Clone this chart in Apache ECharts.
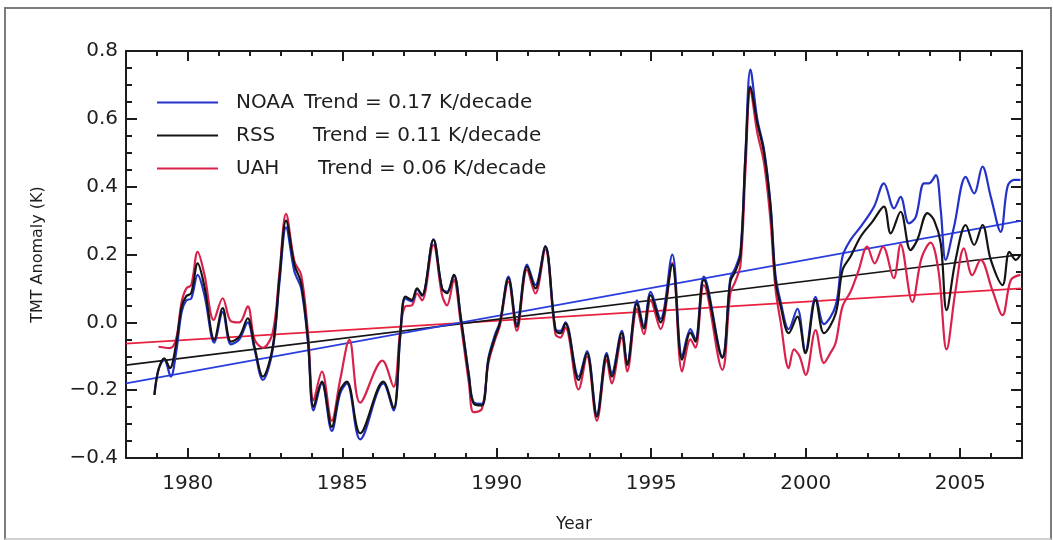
<!DOCTYPE html>
<html>
<head>
<meta charset="utf-8">
<script src="https://cdn.jsdelivr.net/npm/echarts@6/dist/echarts.min.js"></script>
<style>
  html, body { margin: 0; padding: 0; background: #fff; }
  #wrap { position: relative; width: 1053px; height: 540px; }
  #chart { position: absolute; left: 0; top: 0; width: 1053px; height: 540px; }
  #frame { position: absolute; left: 4px; top: 7px; width: 1044px; height: 529px;
           border: 2px solid #7c7c7c; border-bottom-color: #cfcfcf; pointer-events: none; }
</style>
</head>
<body>
<div id="wrap"><div id="chart"></div><div id="frame"></div></div>
<script>
// ---- data ([year, anomaly K]) ----
const seriesNames = ['NOAA', 'RSS', 'UAH'];
const trendLabels = ['0.17', '0.11', '0.06'];

const noaa = [[1978.92,-0.214],[1979.05,-0.14],[1979.24,-0.11],[1979.45,-0.16],[1979.62,-0.09],[1979.8,0.03],[1979.95,0.065],[1980.11,0.07],[1980.32,0.14],[1980.54,0.08],[1980.86,-0.06],[1981.13,0.03],[1981.4,-0.065],[1981.67,-0.05],[1981.94,0.0],[1982.16,-0.08],[1982.43,-0.17],[1982.75,-0.08],[1982.97,0.12],[1983.18,0.28],[1983.45,0.15],[1983.67,0.1],[1983.89,-0.06],[1984.07,-0.26],[1984.34,-0.18],[1984.66,-0.32],[1984.93,-0.21],[1985.15,-0.18],[1985.58,-0.345],[1986.33,-0.18],[1986.66,-0.26],[1986.88,-0.04],[1987.04,0.07],[1987.25,0.062],[1987.42,0.098],[1987.58,0.078],[1987.95,0.245],[1988.23,0.1],[1988.39,0.09],[1988.61,0.14],[1988.83,0.02],[1989.1,-0.155],[1989.25,-0.235],[1989.52,-0.24],[1989.73,-0.105],[1989.95,-0.035],[1990.1,0.0],[1990.38,0.135],[1990.65,-0.005],[1990.98,0.17],[1991.25,0.11],[1991.57,0.225],[1991.9,-0.02],[1992.06,-0.025],[1992.22,0.0],[1992.65,-0.16],[1992.92,-0.085],[1993.24,-0.27],[1993.56,-0.09],[1993.72,-0.15],[1994.05,-0.025],[1994.22,-0.12],[1994.54,0.065],[1994.76,-0.01],[1994.98,0.09],[1995.3,0.01],[1995.68,0.2],[1996.0,-0.1],[1996.27,-0.02],[1996.43,-0.05],[1996.7,0.135],[1997.3,-0.1],[1997.56,0.13],[1997.72,0.16],[1997.89,0.21],[1998.05,0.5],[1998.21,0.745],[1998.43,0.6],[1998.65,0.51],[1998.86,0.35],[1999.02,0.14],[1999.19,0.06],[1999.45,-0.02],[1999.73,0.04],[1999.99,-0.085],[2000.32,0.075],[2000.59,-0.005],[2000.97,0.05],[2001.19,0.194],[2001.45,0.243],[2001.78,0.282],[2002.21,0.341],[2002.53,0.41],[2002.86,0.336],[2003.07,0.37],[2003.34,0.292],[2003.56,0.31],[2003.83,0.41],[2003.99,0.41],[2004.21,0.434],[2004.37,0.331],[2004.53,0.184],[2004.8,0.282],[2005.18,0.429],[2005.45,0.38],[2005.72,0.459],[2005.99,0.37],[2006.31,0.267],[2006.53,0.4],[2006.74,0.42],[2006.95,0.42]];

const rss = [[1978.92,-0.214],[1979.05,-0.14],[1979.24,-0.106],[1979.42,-0.135],[1979.62,-0.065],[1979.8,0.045],[1979.95,0.077],[1980.11,0.086],[1980.32,0.174],[1980.54,0.105],[1980.86,-0.052],[1981.13,0.042],[1981.4,-0.057],[1981.67,-0.042],[1981.94,0.012],[1982.16,-0.072],[1982.43,-0.16],[1982.75,-0.072],[1982.97,0.135],[1983.18,0.3],[1983.45,0.17],[1983.67,0.115],[1983.89,-0.052],[1984.07,-0.249],[1984.34,-0.175],[1984.66,-0.308],[1984.93,-0.2],[1985.15,-0.175],[1985.58,-0.327],[1986.33,-0.175],[1986.66,-0.253],[1986.88,-0.032],[1987.04,0.076],[1987.25,0.066],[1987.42,0.1],[1987.58,0.08],[1987.95,0.243],[1988.23,0.1],[1988.39,0.086],[1988.61,0.14],[1988.83,0.017],[1989.1,-0.16],[1989.25,-0.239],[1989.52,-0.245],[1989.73,-0.111],[1989.95,-0.042],[1990.1,-0.003],[1990.38,0.13],[1990.65,-0.013],[1990.98,0.164],[1991.25,0.1],[1991.57,0.223],[1991.9,-0.023],[1992.06,-0.032],[1992.22,-0.003],[1992.65,-0.17],[1992.92,-0.091],[1993.24,-0.278],[1993.56,-0.096],[1993.72,-0.16],[1994.05,-0.032],[1994.22,-0.126],[1994.54,0.056],[1994.76,-0.018],[1994.98,0.08],[1995.3,0.0],[1995.68,0.17],[1996.0,-0.11],[1996.27,-0.03],[1996.43,-0.057],[1996.7,0.125],[1997.3,-0.105],[1997.56,0.12],[1997.72,0.15],[1997.89,0.2],[1998.05,0.49],[1998.21,0.695],[1998.43,0.59],[1998.65,0.5],[1998.86,0.34],[1999.02,0.125],[1999.19,0.047],[1999.45,-0.032],[1999.73,0.017],[1999.99,-0.091],[2000.32,0.066],[2000.59,-0.032],[2000.97,0.026],[2001.19,0.154],[2001.45,0.194],[2001.78,0.253],[2002.16,0.297],[2002.53,0.341],[2002.75,0.262],[2003.07,0.326],[2003.39,0.213],[2003.61,0.243],[2003.94,0.322],[2004.15,0.302],[2004.37,0.233],[2004.56,0.036],[2004.85,0.184],[2005.18,0.287],[2005.45,0.228],[2005.72,0.287],[2005.99,0.184],[2006.37,0.11],[2006.59,0.208],[2006.8,0.184],[2006.95,0.2]];

const uah = [[1979.05,-0.072],[1979.42,-0.076],[1979.62,-0.05],[1979.8,0.06],[1979.95,0.1],[1980.11,0.11],[1980.32,0.208],[1980.54,0.14],[1980.84,0.007],[1981.13,0.071],[1981.4,0.003],[1981.67,0.0],[1981.94,0.047],[1982.16,-0.05],[1982.43,-0.075],[1982.75,-0.03],[1982.97,0.15],[1983.18,0.32],[1983.45,0.18],[1983.67,0.14],[1983.89,-0.03],[1984.07,-0.23],[1984.34,-0.145],[1984.66,-0.29],[1984.93,-0.17],[1985.23,-0.052],[1985.58,-0.237],[1986.3,-0.113],[1986.66,-0.19],[1986.88,-0.02],[1987.04,0.047],[1987.25,0.05],[1987.42,0.085],[1987.58,0.065],[1987.95,0.228],[1988.23,0.08],[1988.39,0.05],[1988.61,0.125],[1988.83,0.0],[1989.1,-0.18],[1989.25,-0.265],[1989.52,-0.255],[1989.73,-0.12],[1989.95,-0.05],[1990.1,-0.01],[1990.38,0.12],[1990.65,-0.025],[1990.98,0.155],[1991.25,0.085],[1991.57,0.215],[1991.9,-0.035],[1992.06,-0.045],[1992.22,-0.015],[1992.65,-0.198],[1992.92,-0.1],[1993.24,-0.29],[1993.56,-0.11],[1993.72,-0.18],[1994.05,-0.045],[1994.22,-0.145],[1994.54,0.04],[1994.76,-0.035],[1994.98,0.065],[1995.3,-0.02],[1995.68,0.175],[1996.0,-0.145],[1996.27,-0.05],[1996.43,-0.075],[1996.7,0.11],[1997.3,-0.14],[1997.56,0.086],[1997.72,0.12],[1997.89,0.17],[1998.05,0.45],[1998.21,0.685],[1998.43,0.56],[1998.65,0.47],[1998.86,0.3],[1999.02,0.1],[1999.19,0.0],[1999.45,-0.135],[1999.62,-0.08],[1999.8,-0.1],[2000.0,-0.155],[2000.32,-0.023],[2000.59,-0.12],[2000.8,-0.09],[2000.97,-0.06],[2001.19,0.047],[2001.45,0.09],[2001.7,0.15],[2001.99,0.223],[2002.23,0.174],[2002.5,0.223],[2002.85,0.13],[2003.07,0.23],[2003.45,0.06],[2003.75,0.19],[2004.04,0.235],[2004.3,0.15],[2004.56,-0.08],[2004.85,0.095],[2005.12,0.218],[2005.39,0.139],[2005.66,0.184],[2006.04,0.095],[2006.37,0.021],[2006.64,0.125],[2006.95,0.14]];

// linear trend lines: endpoints read at the axis edges
const trendYears = [1978, 2007];
const noaaTrend = [-0.18, 0.30];
const rssTrend = [-0.126, 0.20];
const uahTrend = [-0.063, 0.10];

// axis ticks
const majorYears = [1980, 1985, 1990, 1995, 2000, 2005];
const allYears = [];
for (let y = 1978; y <= 2007; y++) allYears.push(y);

// ---- styles ----
const colors = { NOAA: '#2432c8', RSS: '#141414', UAH: '#d8224c' };
const trendColors = { NOAA: '#2a3ee0', RSS: '#151515', UAH: '#e8223e' };
const axisColor = '#1c1c1c';
const textColor = '#1e1e1e';
const font = 'DejaVu Sans';

function trendData(v) { return trendYears.map((y, i) => [y, v[i]]); }

const xCommon = {
  type: 'value', min: 1978, max: 2007, gridIndex: 0,
  splitLine: { show: false }
};

const option = {
  animation: false,
  backgroundColor: '#fff',
  grid: { left: 126, right: 31, top: 51, bottom: 82, containLabel: false },
  legend: {
    orient: 'vertical', left: 157, top: 92.5, padding: 0, itemWidth: 61, itemHeight: 2, itemGap: 13,
    icon: 'rect',
    data: seriesNames,
    formatter: function (name) {
      const i = seriesNames.indexOf(name);
      return '{p| }{n' + i + '|' + name + '}{t|Trend = ' + trendLabels[i] + ' K/decade}';
    },
    textStyle: {
      fontFamily: font, fontSize: 20, color: textColor,
      rich: {
        p: { width: 13, fontSize: 20, lineHeight: 24 },
        n0: { width: 68, fontFamily: font, fontSize: 20, lineHeight: 24, color: textColor },
        n1: { width: 77, fontFamily: font, fontSize: 20, lineHeight: 24, color: textColor },
        n2: { width: 82, fontFamily: font, fontSize: 20, lineHeight: 24, color: textColor },
        t: { fontFamily: font, fontSize: 20, lineHeight: 24, color: textColor }
      }
    }
  },
  xAxis: [
    Object.assign({}, xCommon, {
      position: 'bottom',
      name: 'Year', nameLocation: 'middle', nameGap: 58,
      nameTextStyle: { fontFamily: font, fontSize: 17, color: textColor },
      axisLine: { show: true, onZero: false, lineStyle: { color: axisColor, width: 2 } },
      axisTick: { show: true, inside: true, length: 10, customValues: majorYears, lineStyle: { color: axisColor, width: 2 } },
      axisLabel: { show: true, customValues: majorYears, margin: 16, fontFamily: font, fontSize: 20, color: textColor,
                   formatter: v => String(Math.round(v)) }
    }),
    Object.assign({}, xCommon, {
      position: 'bottom',
      axisLine: { show: false, onZero: false },
      axisTick: { show: true, inside: true, length: 5, customValues: allYears, lineStyle: { color: axisColor, width: 2 } },
      axisLabel: { show: false }
    }),
    Object.assign({}, xCommon, {
      position: 'top',
      axisLine: { show: true, onZero: false, lineStyle: { color: axisColor, width: 2 } },
      axisTick: { show: true, inside: true, length: 10, customValues: majorYears, lineStyle: { color: axisColor, width: 2 } },
      axisLabel: { show: false }
    }),
    Object.assign({}, xCommon, {
      position: 'top',
      axisLine: { show: false, onZero: false },
      axisTick: { show: true, inside: true, length: 5, customValues: allYears, lineStyle: { color: axisColor, width: 2 } },
      axisLabel: { show: false }
    })
  ],
  yAxis: [
    {
      type: 'value', min: -0.4, max: 0.8, interval: 0.2, position: 'left',
      name: 'TMT Anomaly (K)', nameLocation: 'middle', nameGap: 80,
      nameTextStyle: { fontFamily: font, fontSize: 16, color: textColor },
      splitLine: { show: false },
      axisLine: { show: true, onZero: false, lineStyle: { color: axisColor, width: 2 } },
      axisTick: { show: true, inside: true, length: 11, lineStyle: { color: axisColor, width: 2 } },
      minorTick: { show: true, splitNumber: 4, length: 6, lineStyle: { color: axisColor, width: 2 } },
      axisLabel: {
        margin: 8, fontFamily: font, fontSize: 20, color: textColor,
        formatter: v => (v < 0 ? '\u2212' : '') + Math.abs(v).toFixed(1)
      }
    },
    {
      type: 'value', min: -0.4, max: 0.8, interval: 0.2, position: 'right',
      splitLine: { show: false },
      axisLine: { show: true, onZero: false, lineStyle: { color: axisColor, width: 2 } },
      axisTick: { show: true, inside: true, length: 11, lineStyle: { color: axisColor, width: 2 } },
      minorTick: { show: true, splitNumber: 4, length: 6, lineStyle: { color: axisColor, width: 2 } },
      axisLabel: { show: false }
    }
  ],
  series: [
    { name: 'UAH trend', type: 'line', data: trendData(uahTrend), symbol: 'none', silent: true, z: 3,
      lineStyle: { color: trendColors.UAH, width: 1.7 } },
    { name: 'RSS trend', type: 'line', data: trendData(rssTrend), symbol: 'none', silent: true, z: 3,
      lineStyle: { color: trendColors.RSS, width: 1.7 } },
    { name: 'NOAA trend', type: 'line', data: trendData(noaaTrend), symbol: 'none', silent: true, z: 3,
      lineStyle: { color: trendColors.NOAA, width: 1.7 } },
    { name: 'UAH', type: 'line', data: uah, symbol: 'none', smooth: 0.35, z: 4,
      color: colors.UAH, lineStyle: { color: colors.UAH, width: 2.2 } },
    { name: 'NOAA', type: 'line', data: noaa, symbol: 'none', smooth: 0.35, z: 5,
      color: colors.NOAA, lineStyle: { color: colors.NOAA, width: 2.2 } },
    { name: 'RSS', type: 'line', data: rss, symbol: 'none', smooth: 0.35, z: 6,
      color: colors.RSS, lineStyle: { color: colors.RSS, width: 2.2 } }
  ]
};

const chart = echarts.init(document.getElementById('chart'), null, { renderer: 'canvas' });
chart.setOption(option);
</script>
</body>
</html>
